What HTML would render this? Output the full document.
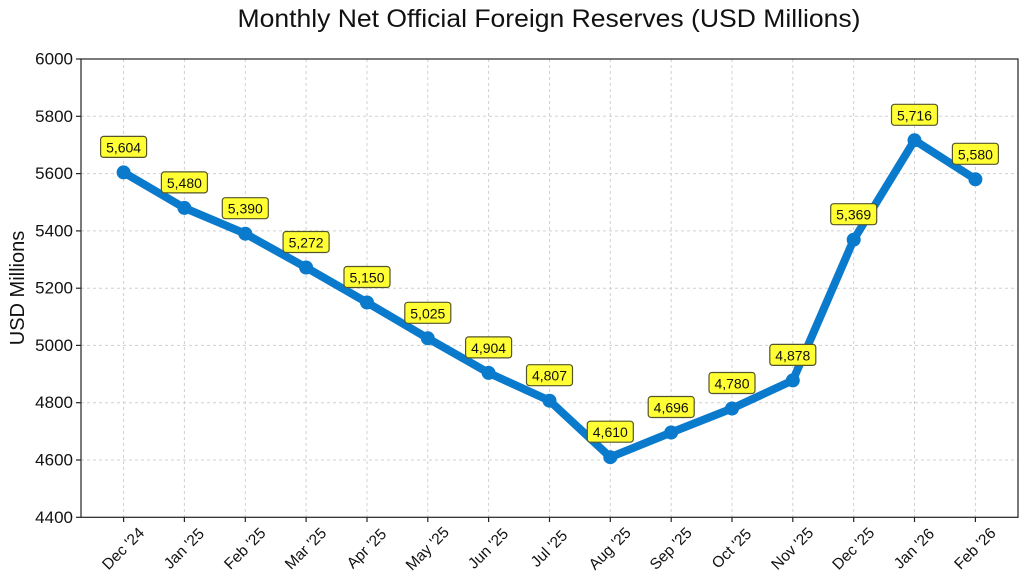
<!DOCTYPE html>
<html><head><meta charset="utf-8"><style>
html,body{margin:0;padding:0;background:#fff;}
svg{display:block;font-family:"Liberation Sans",Arial,sans-serif;}
</style></head><body>
<svg width="1024" height="582" viewBox="0 0 1024 582" xmlns="http://www.w3.org/2000/svg">
<rect width="1024" height="582" fill="#fff"/>
<text x="549" y="27" font-size="25" text-anchor="middle" fill="#111" textLength="623" lengthAdjust="spacingAndGlyphs">Monthly Net Official Foreign Reserves (USD Millions)</text>
<g stroke="#d0d0d0" stroke-width="1" stroke-dasharray="3,3" fill="none">
<line x1="81" x2="1018" y1="460.0" y2="460.0"/><line x1="81" x2="1018" y1="402.7" y2="402.7"/><line x1="81" x2="1018" y1="345.4" y2="345.4"/><line x1="81" x2="1018" y1="288.2" y2="288.2"/><line x1="81" x2="1018" y1="230.9" y2="230.9"/><line x1="81" x2="1018" y1="173.6" y2="173.6"/><line x1="81" x2="1018" y1="116.3" y2="116.3"/>
<line y1="59" y2="517" x1="123.6" x2="123.6"/><line y1="59" y2="517" x1="184.4" x2="184.4"/><line y1="59" y2="517" x1="245.3" x2="245.3"/><line y1="59" y2="517" x1="306.1" x2="306.1"/><line y1="59" y2="517" x1="367.0" x2="367.0"/><line y1="59" y2="517" x1="427.8" x2="427.8"/><line y1="59" y2="517" x1="488.6" x2="488.6"/><line y1="59" y2="517" x1="549.5" x2="549.5"/><line y1="59" y2="517" x1="610.3" x2="610.3"/><line y1="59" y2="517" x1="671.2" x2="671.2"/><line y1="59" y2="517" x1="732.0" x2="732.0"/><line y1="59" y2="517" x1="792.8" x2="792.8"/><line y1="59" y2="517" x1="853.7" x2="853.7"/><line y1="59" y2="517" x1="914.5" x2="914.5"/><line y1="59" y2="517" x1="975.4" x2="975.4"/>
</g>
<rect x="81" y="59" width="937" height="458.3" fill="none" stroke="#222" stroke-width="1.2"/>
<g stroke="#222" stroke-width="1.2">
<line x1="76" x2="81" y1="517.3" y2="517.3"/><line x1="76" x2="81" y1="460.0" y2="460.0"/><line x1="76" x2="81" y1="402.7" y2="402.7"/><line x1="76" x2="81" y1="345.4" y2="345.4"/><line x1="76" x2="81" y1="288.2" y2="288.2"/><line x1="76" x2="81" y1="230.9" y2="230.9"/><line x1="76" x2="81" y1="173.6" y2="173.6"/><line x1="76" x2="81" y1="116.3" y2="116.3"/><line x1="76" x2="81" y1="59" y2="59"/>
<line y1="517.3" y2="522" x1="123.6" x2="123.6"/><line y1="517.3" y2="522" x1="184.4" x2="184.4"/><line y1="517.3" y2="522" x1="245.3" x2="245.3"/><line y1="517.3" y2="522" x1="306.1" x2="306.1"/><line y1="517.3" y2="522" x1="367.0" x2="367.0"/><line y1="517.3" y2="522" x1="427.8" x2="427.8"/><line y1="517.3" y2="522" x1="488.6" x2="488.6"/><line y1="517.3" y2="522" x1="549.5" x2="549.5"/><line y1="517.3" y2="522" x1="610.3" x2="610.3"/><line y1="517.3" y2="522" x1="671.2" x2="671.2"/><line y1="517.3" y2="522" x1="732.0" x2="732.0"/><line y1="517.3" y2="522" x1="792.8" x2="792.8"/><line y1="517.3" y2="522" x1="853.7" x2="853.7"/><line y1="517.3" y2="522" x1="914.5" x2="914.5"/><line y1="517.3" y2="522" x1="975.4" x2="975.4"/>
</g>
<g font-size="17" fill="#111" text-anchor="end" dominant-baseline="central">
<text x="73" y="517.3">4400</text><text x="73" y="460.0">4600</text><text x="73" y="402.7">4800</text><text x="73" y="345.4">5000</text><text x="73" y="288.2">5200</text><text x="73" y="230.9">5400</text><text x="73" y="173.6">5600</text><text x="73" y="116.3">5800</text><text x="73" y="59">6000</text>
</g>
<text x="18" y="288" font-size="20" fill="#111" text-anchor="middle" dominant-baseline="central" transform="rotate(-90 18 288)">USD Millions</text>
<g font-size="15.5" fill="#111" text-anchor="middle" dominant-baseline="central">
<text x="123.6" y="549" transform="rotate(-45 123.6 549)">Dec '24</text>
<text x="184.4" y="549" transform="rotate(-45 184.4 549)">Jan '25</text>
<text x="245.3" y="549" transform="rotate(-45 245.3 549)">Feb '25</text>
<text x="306.1" y="549" transform="rotate(-45 306.1 549)">Mar '25</text>
<text x="367.0" y="549" transform="rotate(-45 367.0 549)">Apr '25</text>
<text x="427.8" y="549" transform="rotate(-45 427.8 549)">May '25</text>
<text x="488.6" y="549" transform="rotate(-45 488.6 549)">Jun '25</text>
<text x="549.5" y="549" transform="rotate(-45 549.5 549)">Jul '25</text>
<text x="610.3" y="549" transform="rotate(-45 610.3 549)">Aug '25</text>
<text x="671.2" y="549" transform="rotate(-45 671.2 549)">Sep '25</text>
<text x="732.0" y="549" transform="rotate(-45 732.0 549)">Oct '25</text>
<text x="792.8" y="549" transform="rotate(-45 792.8 549)">Nov '25</text>
<text x="853.7" y="549" transform="rotate(-45 853.7 549)">Dec '25</text>
<text x="914.5" y="549" transform="rotate(-45 914.5 549)">Jan '26</text>
<text x="975.4" y="549" transform="rotate(-45 975.4 549)">Feb '26</text>
</g>
<polyline fill="none" stroke="#0a7acc" stroke-width="8" stroke-linejoin="round" stroke-linecap="round" points="123.6,172.4 184.4,207.9 245.3,233.7 306.1,267.5 367.0,302.5 427.8,338.3 488.6,372.9 549.5,400.7 610.3,457.2 671.2,432.5 732.0,408.5 792.8,380.4 853.7,239.7 914.5,140.3 975.4,179.3"/>
<g fill="#0a7acc">
<circle cx="123.6" cy="172.4" r="7"/><circle cx="184.4" cy="207.9" r="7"/><circle cx="245.3" cy="233.7" r="7"/><circle cx="306.1" cy="267.5" r="7"/><circle cx="367.0" cy="302.5" r="7"/><circle cx="427.8" cy="338.3" r="7"/><circle cx="488.6" cy="372.9" r="7"/><circle cx="549.5" cy="400.7" r="7"/><circle cx="610.3" cy="457.2" r="7"/><circle cx="671.2" cy="432.5" r="7"/><circle cx="732.0" cy="408.5" r="7"/><circle cx="792.8" cy="380.4" r="7"/><circle cx="853.7" cy="239.7" r="7"/><circle cx="914.5" cy="140.3" r="7"/><circle cx="975.4" cy="179.3" r="7"/>
</g>
<g fill="#ffff33" stroke="#55552a" stroke-width="1.2">
<rect x="100.6" y="136.4" width="46" height="21" rx="3"/>
<rect x="161.4" y="171.9" width="46" height="21" rx="3"/>
<rect x="222.3" y="197.7" width="46" height="21" rx="3"/>
<rect x="283.1" y="231.5" width="46" height="21" rx="3"/>
<rect x="344.0" y="266.5" width="46" height="21" rx="3"/>
<rect x="404.8" y="302.3" width="46" height="21" rx="3"/>
<rect x="465.6" y="336.9" width="46" height="21" rx="3"/>
<rect x="526.5" y="364.7" width="46" height="21" rx="3"/>
<rect x="587.3" y="421.2" width="46" height="21" rx="3"/>
<rect x="648.2" y="396.5" width="46" height="21" rx="3"/>
<rect x="709.0" y="372.5" width="46" height="21" rx="3"/>
<rect x="769.8" y="344.4" width="46" height="21" rx="3"/>
<rect x="830.7" y="203.7" width="46" height="21" rx="3"/>
<rect x="891.5" y="104.3" width="46" height="21" rx="3"/>
<rect x="952.4" y="143.3" width="46" height="21" rx="3"/>
</g>
<g font-size="14" fill="#111" text-anchor="middle" dominant-baseline="central">
<text x="123.6" y="147.4">5,604</text>
<text x="184.4" y="182.9">5,480</text>
<text x="245.3" y="208.7">5,390</text>
<text x="306.1" y="242.5">5,272</text>
<text x="367.0" y="277.5">5,150</text>
<text x="427.8" y="313.3">5,025</text>
<text x="488.6" y="347.9">4,904</text>
<text x="549.5" y="375.7">4,807</text>
<text x="610.3" y="432.2">4,610</text>
<text x="671.2" y="407.5">4,696</text>
<text x="732.0" y="383.5">4,780</text>
<text x="792.8" y="355.4">4,878</text>
<text x="853.7" y="214.7">5,369</text>
<text x="914.5" y="115.3">5,716</text>
<text x="975.4" y="154.3">5,580</text>
</g>
</svg>
</body></html>
